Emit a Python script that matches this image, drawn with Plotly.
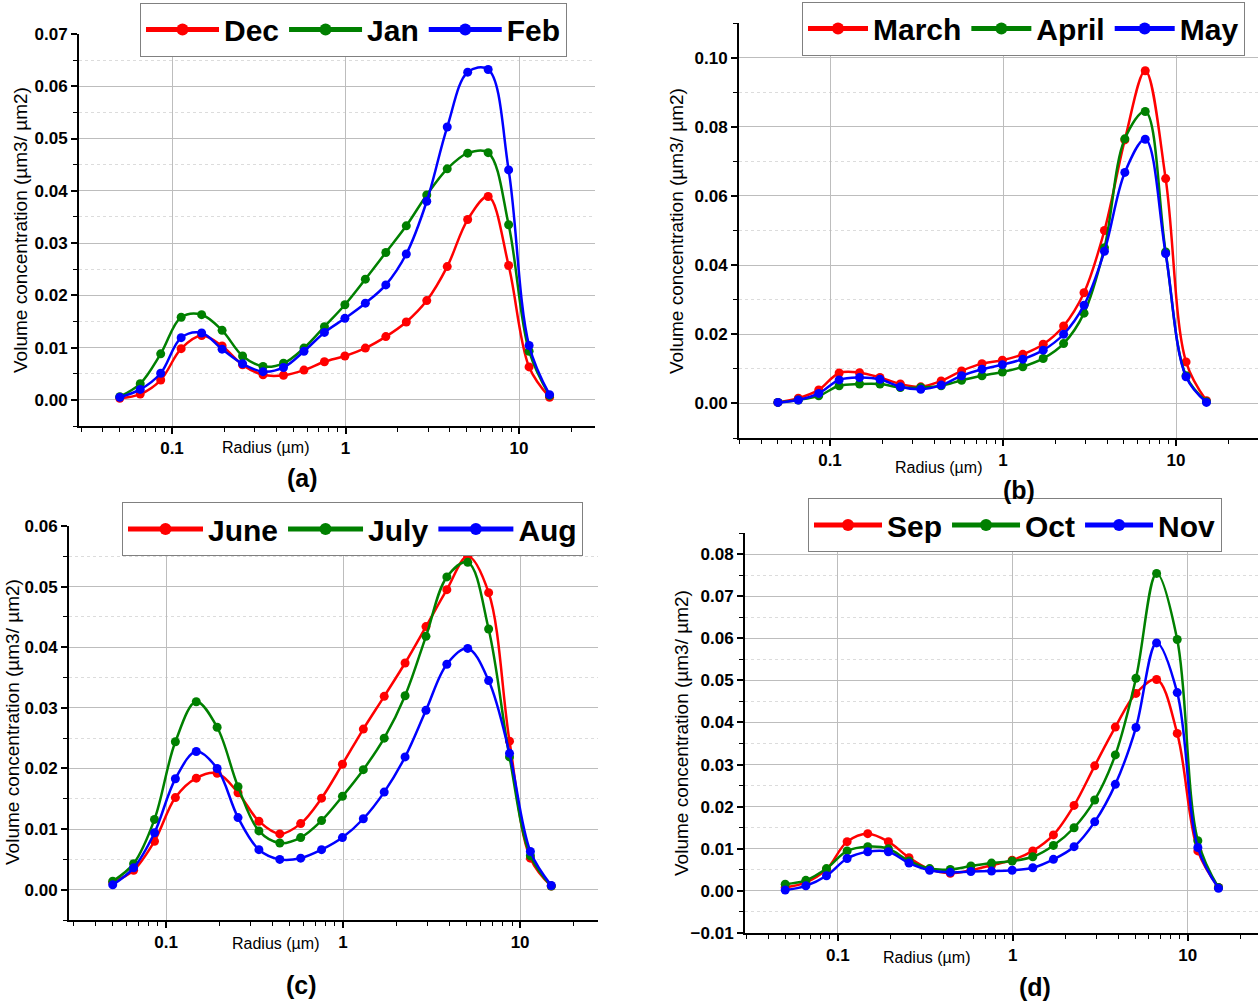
import plotly.graph_objects as go

# ---- data ----
radius = [0.05, 0.065604, 0.086077, 0.112939, 0.148184, 0.194429, 0.255105, 0.334716,
          0.439173, 0.576227, 0.756052, 0.991996, 1.301571, 1.707757, 2.240702, 2.939966,
          3.857452, 5.061260, 6.640745, 8.713145, 11.432287, 15.0]

dec = [0.0003, 0.0011, 0.0038, 0.0098, 0.0123, 0.0103, 0.0067, 0.0048, 0.0047, 0.0057, 0.0073,
       0.0084, 0.0099, 0.0121, 0.0149, 0.0190, 0.0255, 0.0345, 0.0389, 0.0257, 0.0063, 0.0005]
jan = [0.0006, 0.0031, 0.0088, 0.0158, 0.0163, 0.0133, 0.0084, 0.0064, 0.0070, 0.0099, 0.0140,
       0.0182, 0.0231, 0.0282, 0.0333, 0.0392, 0.0442, 0.0472, 0.0473, 0.0335, 0.0093, 0.0008]
feb = [0.0005, 0.0020, 0.0051, 0.0119, 0.0128, 0.0097, 0.0069, 0.0054, 0.0062, 0.0093, 0.0129,
       0.0156, 0.0185, 0.0220, 0.0279, 0.0380, 0.0522, 0.0627, 0.0632, 0.0440, 0.0104, 0.0010]

march = [0.0003, 0.0015, 0.0039, 0.0088, 0.0089, 0.0075, 0.0056, 0.0048, 0.0065, 0.0094, 0.0115,
         0.0125, 0.0142, 0.0171, 0.0224, 0.0320, 0.0500, 0.0762, 0.0962, 0.0650, 0.0120, 0.0008]
april = [0.0003, 0.0010, 0.0022, 0.0051, 0.0056, 0.0056, 0.0046, 0.0046, 0.0051, 0.0067, 0.0080,
         0.0091, 0.0106, 0.0130, 0.0173, 0.0261, 0.0450, 0.0765, 0.0844, 0.0438, 0.0080, 0.0005]
may = [0.0003, 0.0010, 0.0029, 0.0068, 0.0075, 0.0070, 0.0048, 0.0041, 0.0053, 0.0080, 0.0099,
       0.0112, 0.0128, 0.0154, 0.0200, 0.0284, 0.0440, 0.0668, 0.0764, 0.0433, 0.0077, 0.0003]

june = [0.0012, 0.0032, 0.0080, 0.0152, 0.0184, 0.0192, 0.0160, 0.0113, 0.0092, 0.0109, 0.0151,
        0.0207, 0.0265, 0.0319, 0.0374, 0.0434, 0.0495, 0.0550, 0.0490, 0.0245, 0.0052, 0.0006]
july = [0.0014, 0.0043, 0.0116, 0.0244, 0.0310, 0.0268, 0.0170, 0.0097, 0.0077, 0.0086, 0.0114,
        0.0154, 0.0198, 0.0250, 0.0320, 0.0418, 0.0516, 0.0540, 0.0430, 0.0219, 0.0056, 0.0006]
aug = [0.0008, 0.0036, 0.0094, 0.0183, 0.0228, 0.0200, 0.0119, 0.0066, 0.0050, 0.0052, 0.0066,
       0.0086, 0.0117, 0.0161, 0.0219, 0.0296, 0.0372, 0.0398, 0.0345, 0.0225, 0.0063, 0.0007]

sep = [0.0008, 0.0020, 0.0051, 0.0117, 0.0136, 0.0117, 0.0079, 0.0051, 0.0042, 0.0049, 0.0061,
       0.0073, 0.0095, 0.0133, 0.0203, 0.0297, 0.0389, 0.0469, 0.0502, 0.0374, 0.0095, 0.0008]
oct_ = [0.0016, 0.0025, 0.0053, 0.0095, 0.0105, 0.0100, 0.0071, 0.0053, 0.0051, 0.0059, 0.0066,
        0.0071, 0.0081, 0.0108, 0.0150, 0.0216, 0.0323, 0.0505, 0.0754, 0.0597, 0.0119, 0.0008]
nov = [0.0002, 0.0012, 0.0036, 0.0077, 0.0093, 0.0093, 0.0066, 0.0049, 0.0044, 0.0046, 0.0047,
       0.0049, 0.0055, 0.0075, 0.0105, 0.0164, 0.0253, 0.0388, 0.0589, 0.0471, 0.0103, 0.0006]

colors = ["#ff0000", "#008000", "#0000ff"]

panels = [
    dict(names=["Dec", "Jan", "Feb"], data=[dec, jan, feb], label="(a)",
         xdom=[79/1258, 595/1258], ydom=[1-426/1003, 1-34/1003],
         xr=[-1.536, 1.438], yr=[-0.005, 0.07], dtick=0.01, iw=73,
         leg=(140/1258, 1-29.5/1003), lab=(302, 478), xt=(265, 447), yt=(20, 230)),
    dict(names=["March", "April", "May"], data=[march, april, may], label="(b)",
         xdom=[739/1258, 1.0], ydom=[1-438/1003, 1-23/1003],
         xr=[-1.526, 1.474], yr=[-0.01, 0.11], dtick=0.02, iw=60,
         leg=(802/1258, 1-28.5/1003), lab=(1019, 490), xt=(938, 468), yt=(676, 231)),
    dict(names=["June", "July", "Aug"], data=[june, july, aug], label="(c)",
         xdom=[69/1258, 598/1258], ydom=[1-920/1003, 1-526/1003],
         xr=[-1.548, 1.44], yr=[-0.005, 0.06], dtick=0.01, iw=75,
         leg=(122/1258, 1-529/1003), lab=(301, 985), xt=(275, 943), yt=(12, 722)),
    dict(names=["Sep", "Oct", "Nov"], data=[sep, oct_, nov], label="(d)",
         xdom=[745/1258, 1.0], ydom=[1-933/1003, 1-533/1003],
         xr=[-1.531, 1.402], yr=[-0.01, 0.085], dtick=0.01, iw=68,
         leg=(808/1258, 1-525/1003), lab=(1035, 987), xt=(926, 957), yt=(681, 733)),
]

W, H = 1258, 1003
fig = go.Figure()
layout = dict(width=W, height=H, margin=dict(l=0, r=0, t=0, b=0, autoexpand=False),
              template="none", showlegend=True,
              paper_bgcolor="white", plot_bgcolor="white", annotations=[])

FONT = "Liberation Sans, Arial, sans-serif"

for i, p in enumerate(panels):
    k = "" if i == 0 else str(i + 1)
    legname = "legend" if i == 0 else f"legend{i+1}"
    for name, vals, c in zip(p["names"], p["data"], colors):
        fig.add_trace(go.Scatter(
            x=radius, y=vals, name=name, mode="lines+markers",
            line=dict(color=c, width=2.5, shape="spline", smoothing=1.0),
            marker=dict(color=c, size=9),
            xaxis="x" + k, yaxis="y" + k, legend=legname))
    layout["xaxis" + k] = dict(
        type="log", domain=p["xdom"], range=p["xr"], anchor="y" + k,
        dtick=1, automargin=False,
        showline=True, linecolor="black", linewidth=2, mirror=False,
        ticks="outside", ticklen=6, tickwidth=1.5, tickcolor="black",
        showgrid=True, gridcolor="#bdbdbd", gridwidth=1,
        tickfont=dict(family=FONT, size=17, color="black", weight="bold"),
        minor=dict(dtick="D1", ticks="outside", ticklen=4, tickcolor="black", tickwidth=1,
                   showgrid=False),
        zeroline=False)
    layout["yaxis" + k] = dict(
        domain=p["ydom"], range=p["yr"], anchor="x" + k, automargin=False,
        dtick=p["dtick"], tick0=0, tickformat=".2f",
        showline=True, linecolor="black", linewidth=2,
        ticks="outside", ticklen=6, tickwidth=1.5, tickcolor="black",
        showgrid=True, gridcolor="#bdbdbd", gridwidth=1,
        tickfont=dict(family=FONT, size=17, color="black", weight="bold"),
        minor=dict(dtick=p["dtick"] / 2, tick0=0, ticks="outside", ticklen=4,
                   tickcolor="black", tickwidth=1,
                   showgrid=True, gridcolor="#dcdcdc", griddash="dot"),
        zeroline=False)
    layout[legname] = dict(
        x=p["leg"][0], y=p["leg"][1], xanchor="left", yanchor="middle",
        orientation="h", bgcolor="white", bordercolor="#808080", borderwidth=1,
        font=dict(family=FONT, size=30, color="black", weight="bold"),
        itemwidth=p["iw"], tracegroupgap=0, itemsizing="constant")
    layout["annotations"].append(dict(
        x=p["lab"][0] / W, y=1 - p["lab"][1] / H, xref="paper", yref="paper",
        text="<b>" + p["label"] + "</b>", showarrow=False,
        font=dict(family=FONT, size=25, color="black"), xanchor="center", yanchor="middle"))
    layout["annotations"].append(dict(
        x=p["xt"][0] / W, y=1 - p["xt"][1] / H, xref="paper", yref="paper",
        text="Radius (µm)", showarrow=False,
        font=dict(family=FONT, size=16, color="black"), xanchor="center", yanchor="middle"))
    layout["annotations"].append(dict(
        x=p["yt"][0] / W, y=1 - p["yt"][1] / H, xref="paper", yref="paper",
        text="Volume concentration (µm3/ µm2)", showarrow=False, textangle=-90,
        font=dict(family=FONT, size=19, color="black"), xanchor="center", yanchor="middle"))

fig.update_layout(**layout)
fig.write_html("out.html")
